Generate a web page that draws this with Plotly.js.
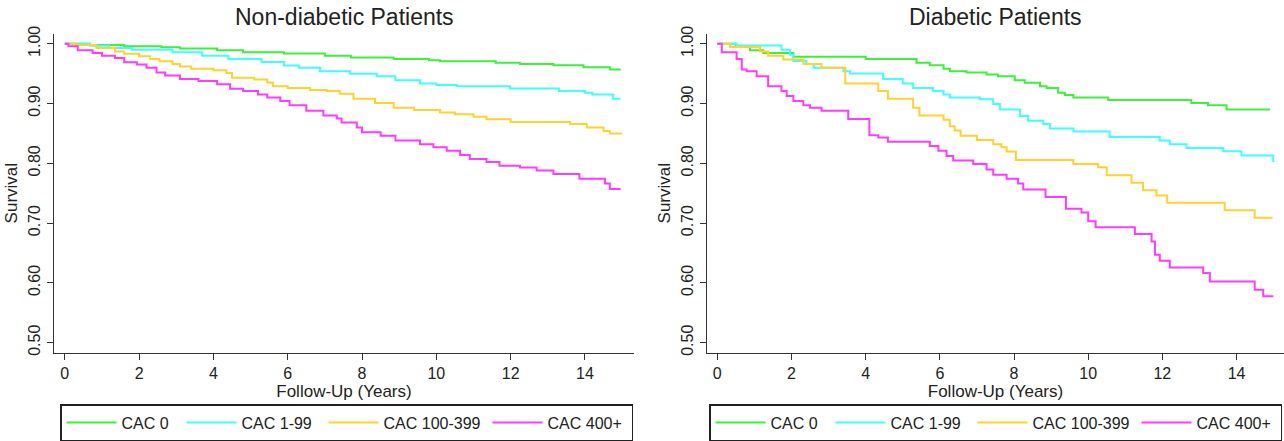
<!DOCTYPE html>
<html>
<head>
<meta charset="utf-8">
<script src="https://cdn.plot.ly/plotly-3.0.1.min.js"></script>
<style>html,body{margin:0;padding:0;background:#fff;}#chart{width:1284px;height:441px;}</style>
</head>
<body>
<div id="chart"></div>
<script>
// ---- Data ----
var panelTitles = ["Non-diabetic Patients", "Diabetic Patients"];
var seriesNames = ["CAC 0", "CAC 1-99", "CAC 100-399", "CAC 400+"];
var seriesColors = ["#3cf03c", "#40ffff", "#ffd22e", "#ff3cff"];
var xTickVals = [0, 2, 4, 6, 8, 10, 12, 14];
var yTickVals = [0.5, 0.6, 0.7, 0.8, 0.9, 1.0];

// Non-diabetic
var nd0_t = [0,0.68,1.6,2.6,3.1,4.1,4.8,5.9,7.0,7.7,8.85,9.8,10.1,11.6,12.25,13.15,13.96,14.67,14.96];
var nd0_s = [1,0.998,0.9956,0.994,0.992,0.989,0.9856,0.9835,0.980,0.977,0.9745,0.9725,0.9707,0.968,0.966,0.964,0.9607,0.957,0.957];
var nd1_t = [0,0.68,1.2,1.8,2.9,3.7,4.4,5.3,5.9,6.3,6.87,7.68,8.4,8.9,9.56,10.0,10.55,11.98,13.3,14.0,14.2,14.76,14.96];
var nd1_s = [1,0.9967,0.993,0.990,0.9856,0.980,0.9745,0.9695,0.9635,0.9596,0.954,0.9496,0.9457,0.939,0.9336,0.931,0.929,0.925,0.921,0.918,0.915,0.908,0.908];
var nd2_t = [0,0.3,0.85,1.35,1.6,2.0,2.3,2.55,2.9,3.1,3.4,4.0,4.35,4.5,5.1,5.45,5.6,6.0,6.6,7.05,7.4,7.77,8.35,8.85,9.4,10.1,10.5,11.0,11.35,12.0,13.6,14.05,14.5,14.67,15.0];
var nd2_s = [1,0.998,0.993,0.987,0.983,0.979,0.9745,0.9707,0.966,0.962,0.958,0.9557,0.951,0.943,0.940,0.935,0.929,0.926,0.9225,0.921,0.9164,0.908,0.901,0.893,0.889,0.885,0.882,0.878,0.8735,0.869,0.8655,0.860,0.854,0.850,0.850];
var nd3_t = [0,0.1,0.35,0.75,1.0,1.35,1.6,1.94,2.2,2.47,2.7,3.1,3.6,4.1,4.45,4.8,5.2,5.45,5.8,6.05,6.5,6.96,7.32,7.45,7.86,8.0,8.5,8.9,9.56,9.92,10.28,10.64,10.9,11.35,11.7,12.25,12.7,13.15,13.85,14.54,14.67,14.96];
var nd3_s = [1,0.9956,0.989,0.9845,0.980,0.976,0.969,0.965,0.9596,0.952,0.947,0.941,0.9375,0.932,0.9247,0.921,0.915,0.910,0.904,0.897,0.888,0.880,0.875,0.868,0.860,0.852,0.846,0.838,0.832,0.827,0.821,0.814,0.807,0.802,0.796,0.793,0.788,0.782,0.774,0.766,0.757,0.757];

// Diabetic
var d0_t = [0,0.5,0.88,1.24,2.05,4.0,5.37,5.73,6.1,6.27,6.72,7.26,7.57,8.02,8.29,8.7,8.88,9.19,9.37,9.6,10.54,12.78,13.23,13.73,14.9];
var d0_s = [1,0.995,0.989,0.9845,0.978,0.9745,0.968,0.964,0.958,0.954,0.952,0.9485,0.9457,0.939,0.9347,0.929,0.926,0.918,0.914,0.910,0.906,0.901,0.897,0.890,0.890];
var d1_t = [0,0.52,1.73,1.96,2.05,2.4,2.6,3.4,3.58,4.47,5.0,5.28,5.82,6.1,6.27,7.08,7.44,7.62,8.16,8.38,8.79,8.97,9.6,10.58,11.93,12.2,12.65,13.64,14.13,14.99];
var d1_s = [1,0.997,0.990,0.9817,0.971,0.966,0.9596,0.954,0.950,0.941,0.9336,0.926,0.921,0.915,0.910,0.907,0.899,0.890,0.879,0.871,0.8655,0.858,0.853,0.844,0.838,0.832,0.8256,0.820,0.813,0.802];
var d2_t = [0,0.34,1.15,1.37,1.78,2.32,2.81,3.45,4.34,4.6,5.28,5.45,6.1,6.27,6.4,6.56,7.0,7.44,7.66,7.8,8.05,9.6,10.27,10.5,11.17,11.48,11.84,12.13,13.68,14.49,14.97];
var d2_s = [1,0.9945,0.987,0.980,0.9734,0.966,0.9596,0.9336,0.921,0.908,0.893,0.880,0.8726,0.862,0.855,0.846,0.839,0.832,0.827,0.8195,0.8056,0.799,0.7935,0.780,0.7675,0.755,0.746,0.734,0.7215,0.709,0.709];
var d3_t = [0,0.12,0.52,0.66,0.79,1.06,1.37,1.73,1.87,2.05,2.32,2.5,2.81,3.53,4.1,4.34,4.6,5.73,5.96,6.18,6.36,6.9,7.26,7.44,7.8,8.11,8.25,8.85,9.4,9.82,10.0,10.2,11.26,11.71,11.8,11.93,12.2,13.1,13.28,14.49,14.72,14.99];
var d3_s = [1,0.9856,0.9745,0.957,0.954,0.9457,0.929,0.921,0.9125,0.904,0.897,0.893,0.888,0.874,0.847,0.843,0.836,0.829,0.821,0.812,0.8045,0.799,0.7896,0.781,0.774,0.766,0.756,0.7436,0.724,0.7176,0.7032,0.693,0.6816,0.669,0.647,0.637,0.6257,0.6163,0.6024,0.5886,0.5775,0.5775];

var panels = [
  {t: [nd0_t, nd1_t, nd2_t, nd3_t], s: [nd0_s, nd1_s, nd2_s, nd3_s], xa: 'x', ya: 'y', lg: 'legend'},
  {t: [d0_t, d1_t, d2_t, d3_t], s: [d0_s, d1_s, d2_s, d3_s], xa: 'x2', ya: 'y2', lg: 'legend2'}
];
var legendWidths = [55, 77, 99, 79];

var traces = [];
panels.forEach(function(p) {
  for (var i = 0; i < 4; i++) {
    traces.push({
      type: 'scatter', mode: 'lines', x: p.t[i], y: p.s[i],
      line: {shape: 'hv', color: seriesColors[i], width: 2},
      name: seriesNames[i], xaxis: p.xa, yaxis: p.ya, legend: p.lg,
      legendwidth: legendWidths[i], hoverinfo: 'skip'
    });
  }
});

var W = 1284, H = 441;
var font = {family: 'Liberation Sans, Arial, sans-serif', size: 16, color: '#222'};
var titleFont = {family: font.family, size: 17, color: '#222'};
function xAxis(domain, range) {
  return {
    domain: domain, range: range, tickvals: xTickVals, ticks: 'outside', ticklen: 6,
    tickcolor: '#333', showline: true, linecolor: '#333', linewidth: 1.5, showgrid: false,
    zeroline: false, mirror: false, tickfont: font,
    title: {text: 'Follow-Up (Years)', font: titleFont, standoff: 0}
  };
}
function yAxis(domain, anchor) {
  return {
    domain: domain, range: [0.4834, 1.0166], tickvals: yTickVals, tickformat: '.2f',
    tickangle: -90, ticks: 'outside', ticklen: 6, tickcolor: '#333', showline: true,
    linecolor: '#333', linewidth: 1.5, showgrid: false, zeroline: false, mirror: false,
    tickfont: font, anchor: anchor,
    title: {text: 'Survival', font: titleFont, standoff: 4}
  };
}
var yDom = [(H - 355) / H, (H - 34) / H];
var legendBase = {orientation: 'h', xanchor: 'left', y: 1 - 407 / H, yanchor: 'top',
  bordercolor: '#222', borderwidth: 1.5, bgcolor: '#fff', font: font, itemwidth: 50, traceorder: 'normal'};
var layout = {
  width: W, height: H, margin: {l: 0, r: 0, t: 0, b: 0},
  paper_bgcolor: '#fff', plot_bgcolor: '#fff', font: font,
  xaxis: Object.assign(xAxis([54 / W, 634 / W], [-0.29, 15.32]), {anchor: 'y'}),
  yaxis: yAxis(yDom, 'x'),
  xaxis2: Object.assign(xAxis([707 / W, 1], [-0.278, 15.28]), {anchor: 'y2'}),
  yaxis2: yAxis(yDom, 'x2'),
  legend: Object.assign({}, legendBase, {x: 60 / W}),
  legend2: Object.assign({}, legendBase, {x: 709 / W}),
  annotations: panelTitles.map(function(txt, i) {
    return {text: txt, xref: (i === 0 ? 'x domain' : 'x2 domain'), x: 0.5, xanchor: 'center',
      yref: 'paper', y: 1 - 17 / H, yanchor: 'middle', showarrow: false,
      font: {family: font.family, size: 23, color: '#222'}};
  })
};
Plotly.newPlot('chart', traces, layout, {displayModeBar: false, staticPlot: true});
</script>
</body>
</html>
